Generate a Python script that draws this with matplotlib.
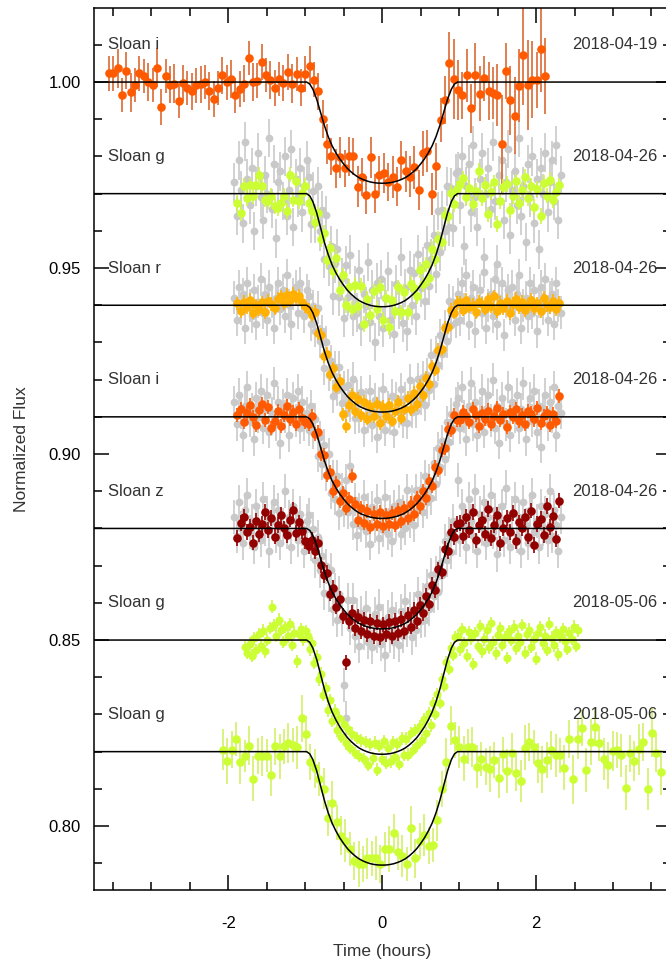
import numpy as np
import matplotlib.pyplot as plt

plt.rcParams['font.family'] = ['Liberation Sans', 'DejaVu Sans']
plt.rcParams['axes.unicode_minus'] = False

# transit model profile (fraction of full depth vs hours from mid-transit)
model_t = [-3.75, -0.98, -0.94, -0.90, -0.85, -0.80, -0.75, -0.70, -0.65, -0.60, -0.55,
           -0.50, -0.45, -0.40, -0.35, -0.30, -0.25, -0.20, -0.15, -0.10, -0.05, 0.0,
           0.05, 0.10, 0.15, 0.20, 0.25, 0.30, 0.35, 0.40, 0.45, 0.50,
           0.55, 0.60, 0.65, 0.70, 0.75, 0.80, 0.85, 0.90, 0.94, 0.98, 3.75]
model_frac = [0, 0, 0.02, 0.07, 0.17, 0.30, 0.43, 0.54, 0.63, 0.70, 0.76,
              0.81, 0.855, 0.89, 0.92, 0.945, 0.963, 0.977, 0.988, 0.995, 0.999, 1.0,
              0.999, 0.995, 0.988, 0.977, 0.963, 0.945, 0.92, 0.89, 0.855, 0.81,
              0.76, 0.70, 0.63, 0.54, 0.43, 0.30, 0.17, 0.07, 0.02, 0, 0]

# vertical offsets and fitted depths (ppt)
offsets = [1.00, 0.97, 0.94, 0.91, 0.88, 0.85, 0.82]
depths = [27.2, 30.4, 28.7, 27.3, 27.0, 30.7, 30.5]
filters = ['Sloan i', 'Sloan g', 'Sloan r', 'Sloan i', 'Sloan z', 'Sloan g', 'Sloan g']
dates = ['2018-04-19', '2018-04-26', '2018-04-26', '2018-04-26', '2018-04-26',
         '2018-05-06', '2018-05-06']

# flux deviations from each offset, in ppt
i0419 = [2.3, 2.3, 3.7, -3.4, 3.0, -2.8, -0.7, 2.3, 1.6, 0.0, -0.7, 3.9, -6.6, 1.7, -0.7,
         -0.4, -5.0, -0.3, -1.7, -2.5, -0.9, -0.6, 0.0, -2.4, -4.6, -1.5, 1.8, 0.0, 0.9,
         -3.6, -1.8, -0.4, 6.5, 0.0, 0.4, 5.4, 1.8, 0.6, -1.6, 0.8, -0.3, 2.7, -0.4, 2.1,
         -1.5, 2.2, 4.4, 0.6, -2.5,
         -10.0, -16.7, -20.0, -23.2, -20.2, -23.2, -20.0, -20.0, -28.1, -25.5, -30.4, -20.2,
         -30.0, -25.0, -24.5, -26.8, -25.5, -28.1, -21.0, -24.0, -25.4, -22.9, -29.0, -19.2,
         -18.5, -30.1, -22.7, -10.2, -4.8, 5.0, 0.8, -2.2, -3.5, 1.8, -7.1, 1.8, -3.1, 1.0,
         -2.4, -2.9, -3.4, -16.7, 3.0, -4.9, -9.1, -1.0, 7.2, -0.9, 0.6, 0.6, 8.8, 1.6]
i0419_err = [4.0, 4.0, 4.5, 4.0, 4.3, 4.5, 4.0, 4.2, 4.0, 4.4, 4.0, 4.6, 4.2, 4.0, 4.3, 4.5,
             4.0, 4.2, 4.0, 4.4, 4.1, 4.3, 4.0, 4.5, 4.2, 4.0, 4.3, 4.1, 4.4, 4.0, 4.2, 4.3,
             4.0, 4.5, 4.1, 4.2, 4.0, 4.4, 4.3, 4.0, 4.2, 4.1, 4.5, 4.0, 4.3, 4.2, 4.6, 4.1,
             4.4,
             4.4, 4.6, 4.3, 4.5, 4.8, 4.4, 4.6, 4.3, 4.7, 4.5, 4.4, 4.8, 4.6, 4.5, 4.7, 4.4,
             4.9, 4.6, 4.5, 4.8, 4.7, 5.0, 4.6, 5.2, 4.9, 5.0, 5.4, 5.1, 5.6,
             7.4, 9.4, 7.0, 5.5, 6.2, 5.8, 7.5, 6.4, 5.2, 6.8, 6.0, 7.2, 11.6, 6.5, 8.0, 9.0,
             8.5, 11.6, 10.5, 9.0, 6.5, 10.0, 8.8]

g0426 = [-2.5, -5.2, 2.0, -1.2, 2.2, -0.7, 2.2, 5.1, 2.0, -1.6, -2.0, -0.7, -3.4, -3.9, -2.5,
         -0.7, -4.7, 5.1, -1.6, 3.5, -2.0, 0.2, 2.0,
         -2.5, -4.7, -7.6, -5.3, -12.3, -10.6, -17.8, -14.7, -20.8, -17.3, -25.8, -22.0, -30.0,
         -25.0, -30.9, -24.6, -30.2, -24.7, -35.1, -28.4, -32.6, -26.3, -30.9, -25.0, -34.0,
         -28.0, -35.9, -28.7, -31.5, -25.2, -31.9, -26.4, -31.9, -24.3, -25.4, -27.5, -20.6,
         -24.4, -19.0, -22.6, -14.8, -17.5, -12.1, -13.1, -5.8, -6.0, 0.3, -2.9, 1.3,
         2.5, 4.1, -1.0, 1.6, -2.9, 0.8, 6.1, -1.1, 2.4, -5.6, 0.5, 3.0, -8.2, -2.0, 1.8, 2.6,
         -4.5, -0.6, 3.3, -2.4, 0.9, 4.4, -1.3, 2.0, -3.6, 1.2, -6.0, 2.8, -0.5, 3.6, -1.8,
         0.4, 2.2]
r0426 = [0.5, -1.5, 1.0, -0.5, 1.5, -2.0, 0.0, -1.0, 0.8, -1.8, 1.2, 0.3, -0.8, 1.8, 2.4,
         0.6, 2.8, 1.4, 3.0, 1.9, 2.5, 0.9, -0.3,
         -1.2, -2.6, -1.8, -7.5, -8.0, -13.6, -13.0, -18.5, -17.0, -21.9, -20.3, -29.3, -32.5,
         -26.8, -24.0, -28.4, -25.1, -29.6, -26.0, -30.5, -27.2, -29.8, -26.5, -31.7, -27.3,
         -29.9, -26.8, -31.0, -28.3, -25.9, -30.2, -27.8, -24.9, -28.0, -23.6, -26.5, -21.7,
         -24.1, -19.5, -21.2, -16.4, -17.3, -12.0, -11.8, -6.1, -5.9, -1.3, -2.0, 0.6,
         0.8, -1.2, 1.5, -0.4, 0.2, -1.8, 1.0, 0.4, -0.9, 1.6, -0.2, 2.4, -1.5, 0.6, -0.7, 1.1,
         -2.2, 0.3, 1.8, -0.5, 0.9, -1.3, 0.2, 1.4, -0.8, 0.5, -1.6, 2.0, 0.1, -0.6, 1.2,
         -1.1, 0.7]
i0426 = [0.5, 2.0, -1.5, 1.0, 3.2, 0.0, -2.2, 1.8, 3.5, -0.8, 2.6, -3.0, -1.2, 1.5, -2.5,
         0.4, 2.8, -0.6, 1.2, -1.8, 2.2, -0.3, -1.5,
         -1.8, 0.2, -4.6, -4.2, -10.0, -10.2, -15.6, -14.8, -19.9, -17.8, -22.5, -20.4, -24.6,
         -22.0, -16.0, -23.5, -27.8, -24.4, -28.6, -25.2, -29.5, -26.0, -28.9, -25.7, -29.4,
         -26.3, -28.7, -25.8, -29.0, -25.1, -28.0, -24.5, -27.2, -23.3, -26.0, -21.9, -24.1,
         -20.0, -21.8, -17.3, -18.5, -13.6, -14.3, -8.9, -8.4, -3.2, -3.6, 0.4, -0.9,
         -0.8, 1.2, 0.3, -1.5, 2.0, 0.6, -2.4, 1.0, -0.5, 1.7, -1.9, 0.2, 2.3, -0.9, 0.8, -2.8,
         1.4, 0.0, 2.1, -1.2, 0.5, -2.0, 1.6, 0.9, -0.7, 2.4, -1.6, 0.3, 1.1, -2.3, 0.7,
         -1.0, 5.6]
z0426 = [-2.5, 1.5, 3.0, -1.0, 0.5, -3.8, 2.0, -1.5, 1.2, 4.5, -0.5, 2.8, -2.2, 1.0, 3.6,
         0.0, -1.8, 2.4, 5.0, -1.2, 1.6, -0.8, -3.5,
         -4.8, -3.0, -6.0, -4.0, -9.8, -12.5, -12.0, -17.5, -16.0, -21.0, -19.0, -23.5, -36.0,
         -25.0, -22.6, -26.8, -23.7, -27.6, -24.5, -28.5, -25.0, -28.9, -25.3, -29.2, -25.8,
         -28.4, -25.1, -29.0, -24.8, -28.1, -24.4, -27.5, -23.2, -26.4, -22.0, -24.9, -20.5,
         -22.8, -18.1, -20.2, -15.2, -16.5, -11.0, -11.6, -5.5, -6.0, -0.9, -2.3, 1.2,
         1.5, -2.0, 3.2, -0.5, 4.5, -3.2, 0.8, 2.2, -1.4, 5.2, -2.6, 1.0, 3.6, -4.0, 0.2, 2.8,
         -1.0, 4.2, -3.5, 1.6, 0.0, 3.0, -2.2, 4.8, -4.5, 1.2, 2.5, -1.8, 6.0, 0.4, 3.4,
         -2.8, 7.5]

# unbinned 2018-04-26 photometry (grey)
g0426_raw = [3, -6, 9, 1, -8, 14, 4, -3, 7, -10, 2, 11, -1, -7, 5, 0, 15, -4, 8, -12, 3, 6,
             -2, 10, -6, 1, 12, -9, 4, -1, 7, -5, 2, 9,
             4.5, -8.2, 0.6, -8, 2, -10.1, -4.5, -17.6, -5.7, -19.5, -14, -27.5, -18.7, -14.8,
             -27.8, -22.6, -33.3, -19.2, -27.8, -16.4, -33, -24.6, -32, -20.4, -35.7, -27,
             -30.2, -18.4, -34.6, -25.8, -39.9, -23.9, -33, -23, -36, -28, -20.9, -33.9, -28.8,
             -37.6, -24.4, -31.2, -17, -34.7, -25.4, -37, -20.6, -30, -21.4, -32.8, -16.2,
             -25.3, -19.6, -28.8, -13.8, -24.7, -17.5, -11, -21.5, -4.7, -15.6, -4.5, -10.1,
             2, -9, 1.6, -9.2, 5.5,
             6, -3, 10, -14, 2, 8, -5, 13, -1, -9, 4, 11, -17, 0, 7, -4, 14, -2, -19, 5, 9, -7,
             3, 12, -11, 1, 6, -3, 15, -6, 2, -13, 8, -1, 10, -8, 4, -15, 7, 0, 11, -5, 3, 9,
             -2, 13, -7, 5]
r0426_raw = [2, -4, 5, -1, 3, -6, 6, 0, -3, 4, -5, 1, 7, -2, 3, -4, 5, 1, -6, 2, 6, -1, 4,
             -3, 8, 0, -5, 3, 5, -2, 6, 1, -3, 4,
             2.5, -5.1, -0.3, -6.8, -0.7, -9.7, -7, -17, -10, -18.7, -15.1, -24.5, -16.7, -22.7,
             -16.7, -26.4, -22.1, -28.9, -21.5, -27.1, -19.7, -30.2, -24.6, -30, -23.3, -33.6,
             -26.7, -29.9, -23.1, -32.3, -25.4, -35.4, -26.5, -31.5, -22.5, -33.5, -27.4, -30.4,
             -24.3, -34.1, -24.9, -28.7, -22.6, -31.3, -25, -31.6, -20.2, -28.7, -24.1, -28.5,
             -19.9, -25.1, -19.4, -26.7, -18.7, -22.7, -13.5, -21.1, -12.7, -16, -8, -13, -5.7,
             -9.7, 1.2, -5.3, 0.9, -4.5,
             3, -4, 6, -1, 8, -5, 2, 5, -7, 1, 4, -2, 9, -6, 0, 3, -3, 7, -5, 2, 6, -8, 1, 4, -1,
             5, -4, 3, 8, -6, 0, 2, -3, 6, -2, 4, -7, 1, 5, -1, 7, -4, 2, 3, -5, 6, 0, -2]
i0426_raw = [4, -2, 6, 1, -5, 3, 8, -1, 2, -6, 5, 0, 7, -3, 2, 6, -4, 1, 9, -2, 4, -7, 3, 0,
             6, -5, 2, 5, -1, 7, -3, 4, -2, 1,
             -3.5, 2.9, -4.2, -0.7, -10.5, -5.4, -12.6, -7.6, -15.5, -10.1, -20.5, -15.9, -22,
             -16, -25.9, -19.6, -25.3, -17.1, -25.7, -13.2, -28.8, -22.3, -31.7, -25, -29.3,
             -21.5, -30.8, -25, -34.1, -24.3, -29.4, -22.4, -32.5, -26.5, -30.5, -21.5, -31.4,
             -25.4, -33.3, -24.1, -29, -22.8, -31.5, -25.3, -30, -19.7, -28.3, -22.8, -29.2,
             -19.7, -25.1, -19.3, -25.6, -15.9, -23, -17, -21.9, -12.5, -18.1, -8.5, -13.6,
             -6.6, -11.4, -1.5, -6.7, 0.8, -3.1, 3.5,
             5, -3, 8, 0, -6, 3, 9, -2, 4, -5, 1, 7, -4, 2, 6, -1, 10, -3, 3, -7, 5, 1, -2, 8,
             -5, 4, 0, 6, -3, 2, 9, -6, 1, 5, -1, 7, -4, 3, -8, 2, 6, -2, 4, 0, 8, -5, 3, 1]
z0426_raw = [3, -2, 7, 0, -4, 5, 9, -1, 2, -5, 6, 1, -3, 8, 0, 4, -6, 2, 7, -2, 5, -4, 1,
             10, -1, 3, -5, 6, 2, -3, 4, 0, -6, 2,
             3.5, -4.1, -0.2, -8.6, -2.4, -11.3, -7.5, -17.3, -10.2, -17.9, -11.2, -21.6, -16.6,
             -24.6, -17.5, -24.2, -42, -51, -19.2, -26.8, -19.3, -28.8, -23.2, -31.6, -22.8,
             -28.1, -21.3, -30.5, -25.6, -31.8, -22.9, -28.9, -21, -31, -25, -34, -23.9, -28.9,
             -21.8, -30.6, -24.5, -31.3, -22.1, -28.8, -19.6, -27.2, -21.8, -29.3, -21.8,
             -27.2, -17.7, -24.9, -19.2, -24.5, -15.6, -21.6, -12.6, -18.2, -11.9, -17.2, -9.3,
             -12.5, -3.3, -8.4, -1.6, -6.2, 1.9, -2.5,
             13, -3, 6, 1, -5, 8, 2, -2, 10, -6, 4, 0, 7, -4, 3, 9, -1, 5, -7, 2, 6, -3, 11, 0,
             -5, 4, 8, -2, 3, -6, 7, 1, -4, 5, 9, -1, 2, -5, 6, 0, 4, -3, 10, -2, 5, 1, -6, 3]

g0506a = [-2.0, -3.5, -1.0, -4.2, 0.5, -2.8, 1.5, -1.5, 2.5, -3.0, 0.0, 3.2, 9.0, 4.0, 1.2,
          5.5, 2.8, -0.5, 3.5, 1.0, 4.2, -1.2, 2.0, -5.7, 1.6, 3.0, 0.2, 2.4,
          1.0, -2.5, -0.8, -6.2, -4.5, -10.6, -9.0, -14.8, -13.0, -18.9, -16.2, -21.8, -19.0,
          -24.3, -21.0, -26.1, -22.5, -27.8, -23.9, -29.0, -25.2, -30.4, -26.3, -31.2, -27.0,
          -32.0, -27.4, -33.5, -28.0, -31.8, -27.6, -34.8, -28.5, -31.9, -27.2, -33.0, -29.0,
          -32.6, -27.5, -31.4, -28.0, -33.2, -26.4, -30.9, -26.5, -30.8, -25.0, -29.6, -24.2,
          -28.3, -23.1, -26.9, -21.2, -25.0, -19.6, -22.9, -17.0, -19.8, -14.6, -16.8, -10.5,
          -12.4, -6.0, -7.8, -2.2, -3.9, 0.8,
          1.2, -2.5, 3.0, -0.8, -4.2, 2.2, 0.5, -6.4, 1.8, -1.5, 3.8, -3.0, 0.2, 2.6, -2.0,
          4.5, -0.5, -3.6, 1.4, 3.2, -1.2, 0.8, -4.8, 2.4, 0.0, 3.6, -2.2, 1.0, -0.6, 4.0,
          -3.4, 1.6, 2.8, -1.8, 0.4, -5.0, 2.0, 3.4, -0.9, 1.2, -2.6, 4.4, 0.6, -1.4, 2.2,
          -3.8, 1.0, 3.0, -0.2, -2.4, 1.8, 0.4, 3.6, -1.6, 2.6]
g0506b = [0.5, -2.4, 0.5, 3.4, -2.9, -1.2, 1.6, -7.3, -1.1, -1.1, -1.1, -6.4, 1.4, -1.3, 1.4,
          2.3, 1.8, 1.2, 9.0, 4.7, -2.7,
          -4.5, -7.3, -10.0, -17.8, -13.8, -19.0, -22.6, -24.0, -26.2, -29.3, -30.2, -30.2,
          -28.7, -28.7, -28.7, -30.2, -26.2, -26.2, -22.0, -27.0, -28.0, -30.2, -20.6, -28.7,
          -24.0, -22.4, -25.3, -25.1, -18.5, -10.0, -2.9,
          7.0, 3.1, 1.3, -1.9, 1.3, 1.3, -4.0, -1.9, -4.0, -4.7, -2.2, -7.0, -0.7, -5.2, -0.3,
          -5.8, -7.9, 1.1, 2.6, 1.3, -3.1, -4.7, -2.2, 0.4, -1.0, -1.0, -4.3, 3.5, -7.4, 3.5,
          6.3, -4.9, 2.6, 6.5, 2.2, -1.9, -3.7, 0.2, 0.4, -1.0, -9.7, -0.4, -2.5, 0.6, 2.6,
          -10.1, 5.1, -0.4, -5.6]
g0506b_err = [5.5, 6.2, 5.0, 4.6, 5.8, 4.4, 5.2, 6.0, 4.8, 5.4, 4.5, 5.6, 4.9, 6.1, 4.7,
              5.3, 4.6, 5.8, 6.3, 5.0, 4.8,
              5.2, 4.6, 5.5, 4.9, 6.0, 4.7, 5.3, 5.8, 4.5, 5.1, 6.2, 4.8, 5.5, 4.6, 5.9, 5.0,
              4.7, 6.1, 5.3, 4.9, 5.6, 4.5, 6.0, 5.2, 4.8, 5.7, 5.0, 4.6, 5.4, 4.9,
              6.5, 5.2, 4.8, 5.6, 6.0, 4.7, 5.3, 5.9, 4.6, 5.1, 6.2, 4.9, 5.5, 4.7, 6.0, 5.3,
              4.8, 5.7, 6.1, 5.0, 4.6, 5.4, 6.3, 4.9, 5.2, 5.8, 4.7, 6.0, 5.1, 6.6, 5.5, 4.8,
              5.9, 6.2, 5.0, 4.7, 5.6, 6.4, 5.3, 4.9, 5.8, 6.1, 5.0, 5.4, 6.8, 5.2, 5.7, 6.5,
              5.1, 6.0]

GREY = '#c9c9c9'
GREEN = '#ccff33'
GREEN_E = '#cdf24a'
AMBER = '#ffb000'
ORANGE = '#ff5a00'
DARKRED = '#920000'


def plot_set(ax, t0, t1, dev, base, err, color, ecolor, ms, z):
    t = np.linspace(t0, t1, len(dev))
    f = base + np.array(dev) / 1000.0
    e = np.array(err) / 1000.0
    ax.errorbar(t, f, yerr=e, fmt='o', ms=ms, mfc=color, mec=color, mew=0,
                ecolor=ecolor, elinewidth=1.2, capsize=3.0, capthick=1.2, zorder=z)


fig = plt.figure(figsize=(6.66, 9.67), dpi=100)
ax = fig.add_axes([0.1404, 0.0796, 0.8667, 0.9121])

# grey unbinned points underneath
plot_set(ax, -1.92, 2.32, g0426_raw, 0.97, 5.2, GREY, GREY, 5.6, 1)
plot_set(ax, -1.92, 2.32, r0426_raw, 0.94, 4.4, GREY, GREY, 5.6, 1)
plot_set(ax, -1.92, 2.32, i0426_raw, 0.91, 4.4, GREY, GREY, 5.6, 1)
plot_set(ax, -1.92, 2.32, z0426_raw, 0.88, 4.6, GREY, GREY, 5.6, 1)

plot_set(ax, -3.55, 2.12, i0419, 1.00, np.array(i0419_err) * 1.15, ORANGE, '#dc6a34', 6.2, 2)
plot_set(ax, -1.88, 2.30, g0426, 0.97, 2.1, GREEN, GREEN_E, 6.2, 2)
plot_set(ax, -1.88, 2.30, r0426, 0.94, 1.8, AMBER, AMBER, 6.2, 2)
plot_set(ax, -1.88, 2.30, i0426, 0.91, 1.9, ORANGE, ORANGE, 6.2, 2)
plot_set(ax, -1.88, 2.30, z0426, 0.88, 2.1, DARKRED, DARKRED, 6.2, 2)
plot_set(ax, -1.78, 2.55, g0506a, 0.85, 1.7, GREEN, GREEN_E, 5.8, 2)
plot_set(ax, -2.07, 3.62, g0506b, 0.82, g0506b_err, GREEN, '#d2f068', 6.2, 2)

# models and labels
for base, depth, filt, date in zip(offsets, depths, filters, dates):
    ax.plot(model_t, base - depth * np.array(model_frac) / 1000.0, color='black',
            lw=1.1, zorder=3)
    ax.text(-3.56, base + 0.010, filt, fontsize=12, color='#333333', va='center', ha='left')
    ax.text(3.58, base + 0.010, date, fontsize=12, color='#333333', va='center', ha='right')

ax.set_xlim(-3.75, 3.75)
ax.set_ylim(0.7828, 1.0199)
ax.set_xticks([-2, 0, 2])
ax.set_xticks(np.arange(-3.5, 3.6, 0.5), minor=True)
ax.set_yticks([0.80, 0.85, 0.90, 0.95, 1.00])
ax.set_yticklabels(['0.80', '0.85', '0.90', '0.95', '1.00'])
ax.set_yticks(np.arange(0.79, 1.02, 0.01), minor=True)
ax.tick_params(which='both', direction='in', top=True, right=True, width=1.1,
               labelsize=12, colors='black')
ax.tick_params(which='major', length=11)
ax.tick_params(which='minor', length=5.5)
ax.tick_params(axis='x', pad=19)
ax.tick_params(axis='y', pad=9)
for s in ax.spines.values():
    s.set_linewidth(1.1)

ax.set_xlabel('Time (hours)', fontsize=12.5, color='#333333', labelpad=9)
ax.set_ylabel('Normalized Flux', fontsize=12.5, color='#333333', labelpad=14)

fig.savefig('out.png', dpi=100)
